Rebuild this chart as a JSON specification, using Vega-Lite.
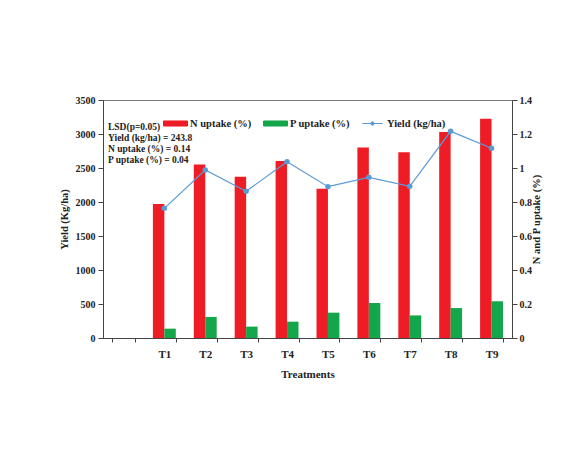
{
  "$schema": "https://vega.github.io/schema/vega-lite/v6.json",
  "width": 409,
  "height": 238,
  "autosize": {"type": "none"},
  "padding": {"left": 103, "top": 100, "right": 61, "bottom": 122},
  "background": "white",
  "config": {
    "font": "Liberation Serif",
    "view": {"stroke": "#777", "strokeWidth": 1},
    "axis": {
      "labelFont": "Liberation Serif",
      "labelFontWeight": "bold",
      "labelFontSize": 10,
      "labelColor": "#222",
      "titleFont": "Liberation Serif",
      "titleFontWeight": "bold",
      "titleFontSize": 10.5,
      "titleColor": "#222",
      "domainColor": "#444",
      "tickColor": "#444",
      "grid": false
    },
    "legend": {
      "labelFont": "Liberation Serif",
      "labelFontWeight": "bold",
      "labelFontSize": 10.5,
      "labelColor": "#222"
    }
  },
  "datasets": {
    "main": [
      {"Treatment": "T1", "N uptake (%)": 0.788, "P uptake (%)": 0.055, "Yield": 1907},
      {"Treatment": "T2", "N uptake (%)": 1.02, "P uptake (%)": 0.124, "Yield": 2471},
      {"Treatment": "T3", "N uptake (%)": 0.949, "P uptake (%)": 0.067, "Yield": 2157},
      {"Treatment": "T4", "N uptake (%)": 1.041, "P uptake (%)": 0.096, "Yield": 2593},
      {"Treatment": "T5", "N uptake (%)": 0.878, "P uptake (%)": 0.149, "Yield": 2225},
      {"Treatment": "T6", "N uptake (%)": 1.12, "P uptake (%)": 0.206, "Yield": 2363},
      {"Treatment": "T7", "N uptake (%)": 1.092, "P uptake (%)": 0.133, "Yield": 2230},
      {"Treatment": "T8", "N uptake (%)": 1.212, "P uptake (%)": 0.176, "Yield": 3039},
      {"Treatment": "T9", "N uptake (%)": 1.29, "P uptake (%)": 0.216, "Yield": 2790}
    ],
    "note": [
      {"label": ["LSD(p=0.05)", "Yield (kg/ha) = 243.8", "N uptake (%) =  0.14", "P uptake (%) =  0.04"]}
    ]
  },
  "encoding": {
    "x": {
      "field": "Treatment",
      "type": "nominal",
      "scale": {"domain": ["", "T1", "T2", "T3", "T4", "T5", "T6", "T7", "T8", "T9"], "paddingInner": 0.44, "paddingOuter": 0.22},
      "axis": {
        "title": "Treatments",
        "labelAngle": 0,
        "tickBand": "extent",
        "tickSize": 4,
        "labelPadding": 6,
        "labelFontSize": 11,
        "titlePadding": 9,
        "titleFontSize": 11
      }
    }
  },
  "layer": [
    {
      "data": {"name": "main"},
      "transform": [{"fold": ["N uptake (%)", "P uptake (%)"], "as": ["Series", "Uptake"]}],
      "mark": {"type": "bar"},
      "encoding": {
        "xOffset": {"field": "Series", "type": "nominal", "scale": {"paddingInner": 0, "paddingOuter": 0}},
        "y": {
          "field": "Uptake",
          "type": "quantitative",
          "scale": {"domain": [0, 1.4], "nice": false},
          "axis": {
            "orient": "right",
            "title": "N and P uptake (%)",
            "titleAngle": -90,
            "values": [0, 0.2, 0.4, 0.6, 0.8, 1, 1.2, 1.4],
            "format": "~g",
            "tickSize": 5,
            "labelPadding": 2,
            "titlePadding": 10
          }
        },
        "color": {
          "field": "Series",
          "type": "nominal",
          "scale": {"domain": ["N uptake (%)", "P uptake (%)", "Yield (kg/ha)"], "range": ["#ee1c25", "#13a64a", "#5b9bd5"]},
          "legend": {
            "title": null,
            "orient": "none",
            "legendX": 60,
            "legendY": 11,
            "direction": "horizontal",
            "columnPadding": 9,
            "symbolSize": 576,
            "labelOffset": 2,
            "symbolStrokeWidth": 1,
            "encode": {
              "symbols": {
                "update": {
                  "shape": {"signal": "datum.value == 'Yield (kg/ha)' ? 'M-0.85,0H0.85M0.14,0A0.14,0.14 0 1 1 -0.14,0A0.14,0.14 0 1 1 0.14,0Z' : 'M-1,-0.21H1V0.21H-1Z'"},
                  "fill": {"signal": "scale('color', datum.value)"},
                  "stroke": {"signal": "scale('color', datum.value)"},
                  "size": {"value": 576}
                }
              },
              "labels": {
                "update": {"fontWeight": {"value": "bold"}}
              }
            }
          }
        }
      }
    },
    {
      "data": {"name": "main"},
      "mark": {"type": "line", "color": "#5b9bd5", "strokeWidth": 1.2, "point": {"filled": true, "size": 30, "color": "#4a8fd6"}},
      "encoding": {
        "y": {
          "field": "Yield",
          "type": "quantitative",
          "scale": {"domain": [0, 3500], "nice": false},
          "axis": {
            "orient": "left",
            "title": "Yield (Kg/ha)",
            "values": [0, 500, 1000, 1500, 2000, 2500, 3000, 3500],
            "format": "d",
            "tickSize": 5,
            "labelPadding": 3,
            "titlePadding": 6
          }
        },
        "color": {"datum": "Yield (kg/ha)"}
      }
    },
    {
      "data": {"name": "note"},
      "mark": {"type": "text", "align": "left", "baseline": "top", "font": "Liberation Serif", "fontWeight": "bold", "fontSize": 9.5, "lineHeight": 11, "color": "#222", "dx": -4},
      "encoding": {
        "x": {"datum": "", "bandPosition": 0},
        "y": {"datum": 3170, "type": "quantitative", "scale": {"domain": [0, 3500], "nice": false}, "axis": null},
        "text": {"field": "label"}
      }
    }
  ],
  "resolve": {"scale": {"y": "independent"}}
}
